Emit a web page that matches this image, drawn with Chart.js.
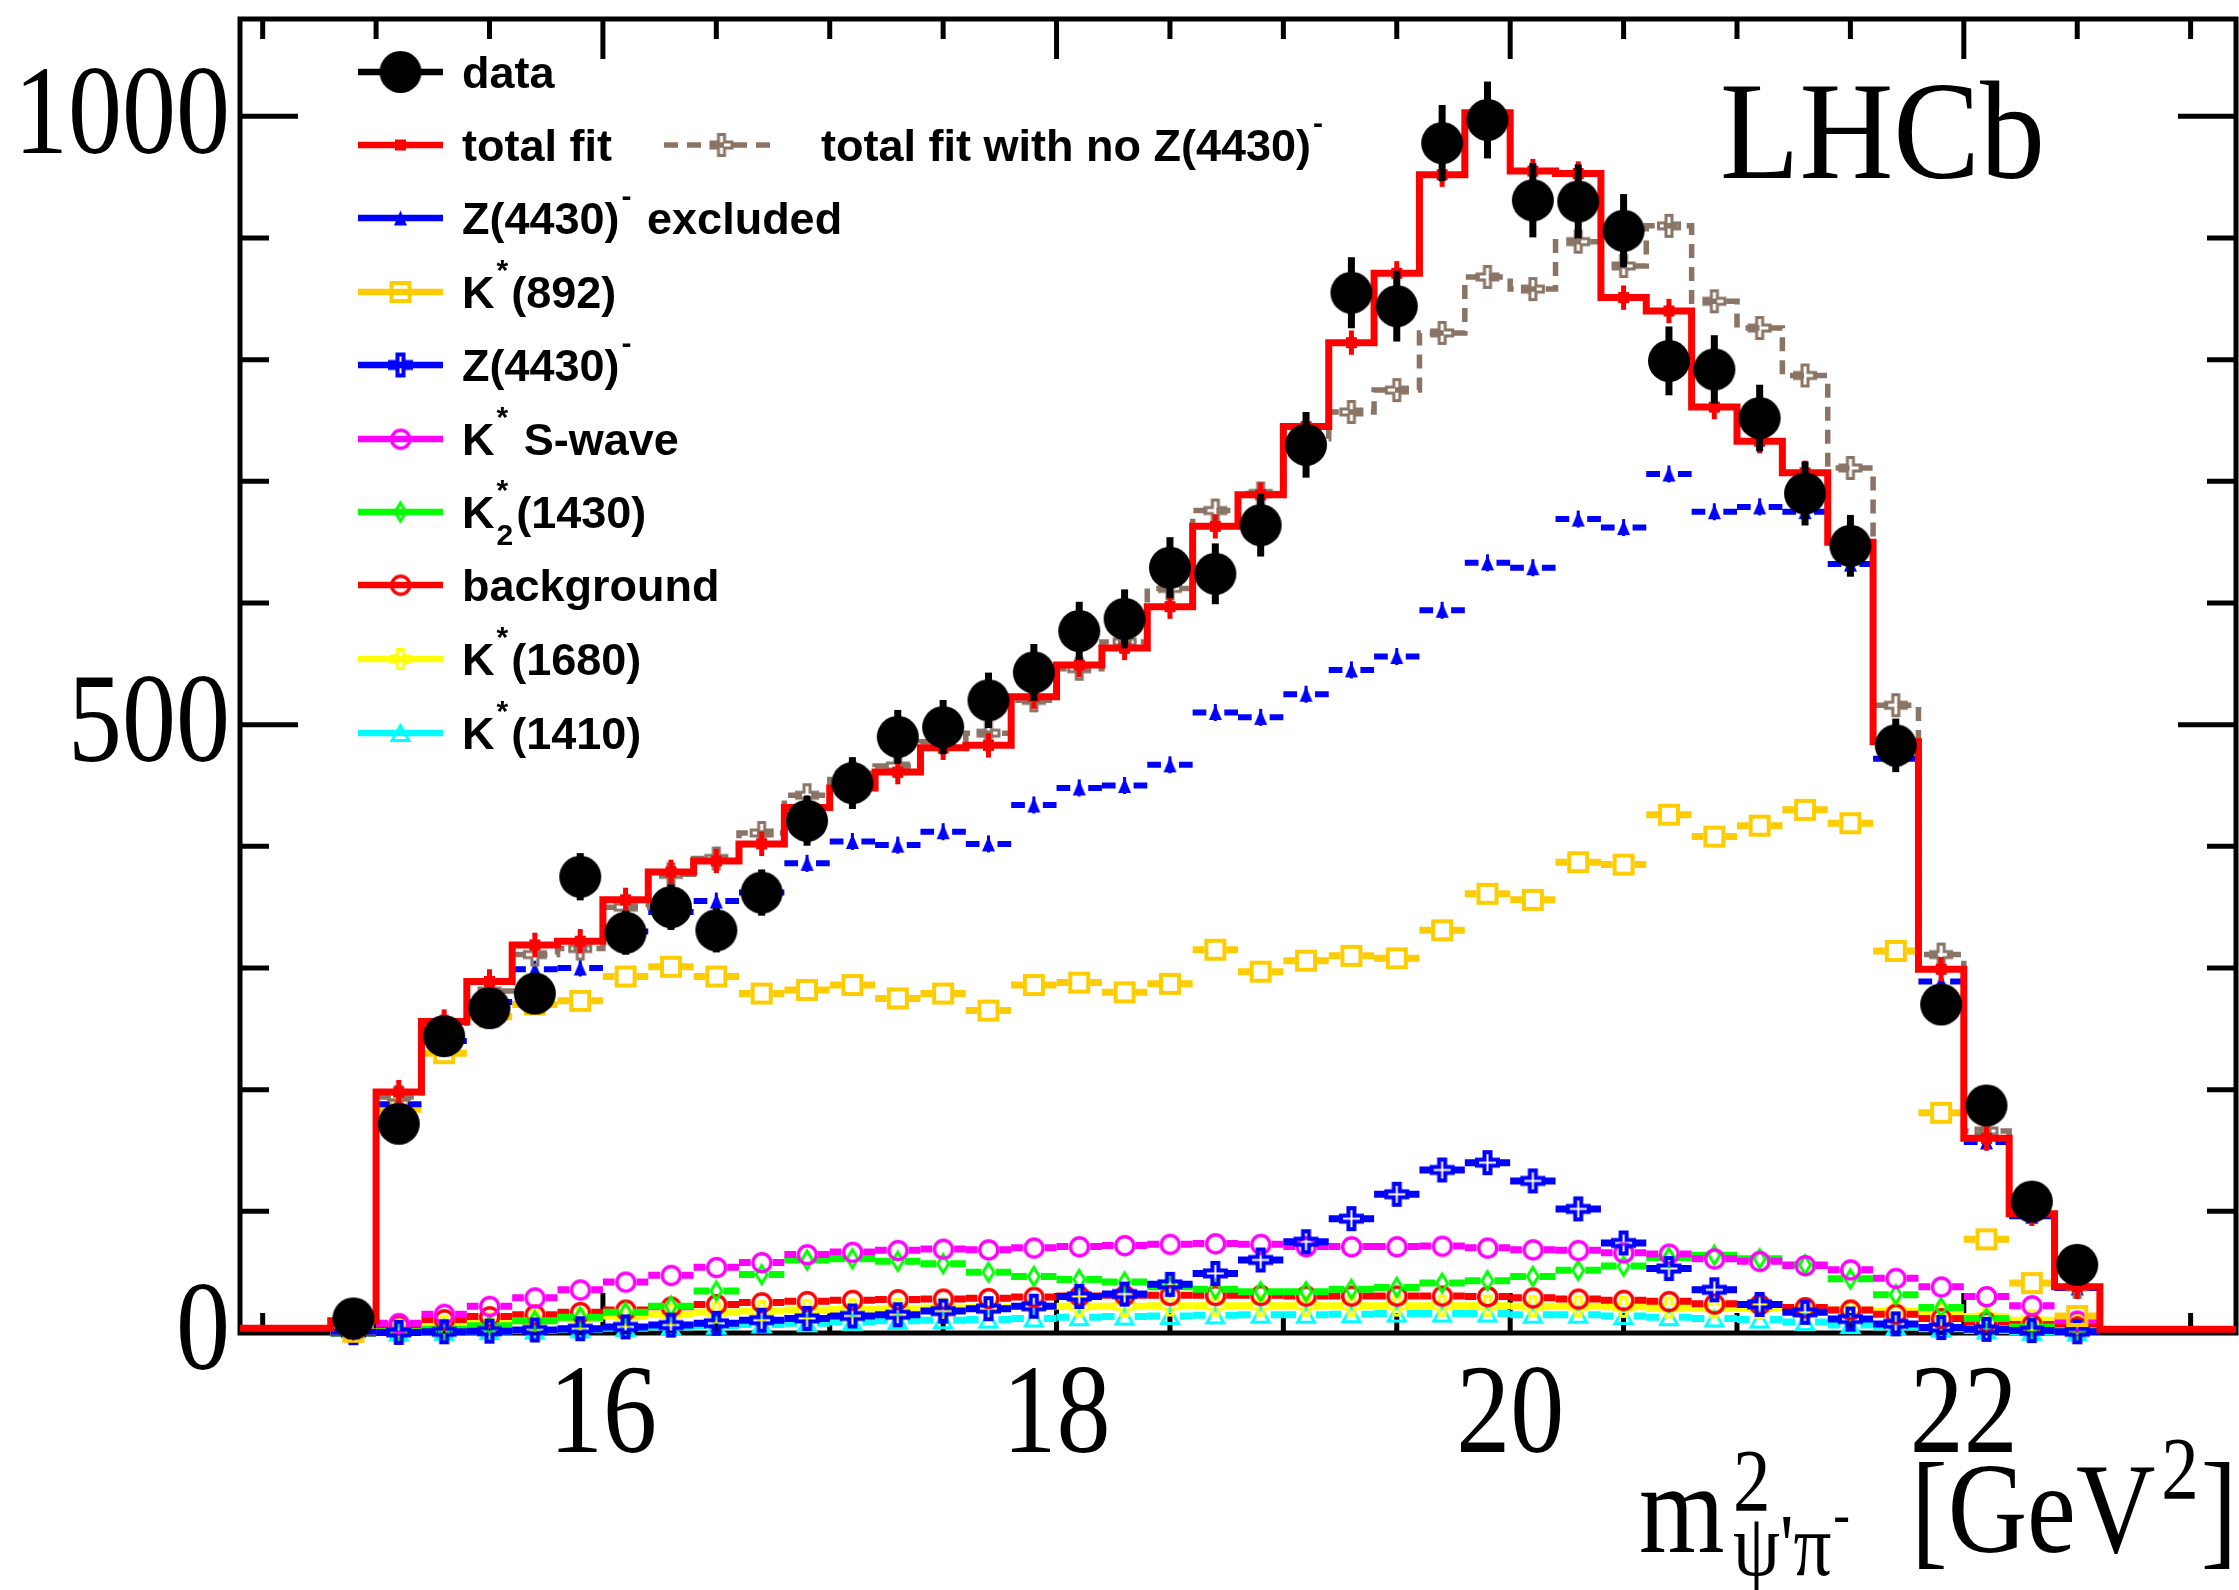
<!DOCTYPE html>
<html lang="en">
<head>
<meta charset="utf-8">
<title>m2 psi' pi- projection</title>
<script src="https://cdn.jsdelivr.net/npm/chart.js@4.4.1/dist/chart.umd.min.js"></script>
<style>
  html, body { margin: 0; padding: 0; background: #ffffff; }
  #plot { display: block; }
</style>
</head>
<body>
<canvas id="plot" width="2239" height="1590"></canvas>
<script>
// bins are 0.2 GeV^2 wide
const binCenters = [14.9, 15.1, 15.3, 15.5, 15.7, 15.9, 16.1, 16.3, 16.5, 16.7,
  16.9, 17.1, 17.3, 17.5, 17.7, 17.9, 18.1, 18.3, 18.5, 18.7,
  18.9, 19.1, 19.3, 19.5, 19.7, 19.9, 20.1, 20.3, 20.5, 20.7,
  20.9, 21.1, 21.3, 21.5, 21.7, 21.9, 22.1, 22.3, 22.5];
// the fit histograms run over the whole axis
const fitCenters = [14.5, 14.7, 14.9, 15.1, 15.3, 15.5, 15.7, 15.9, 16.1, 16.3,
  16.5, 16.7, 16.9, 17.1, 17.3, 17.5, 17.7, 17.9, 18.1, 18.3,
  18.5, 18.7, 18.9, 19.1, 19.3, 19.5, 19.7, 19.9, 20.1, 20.3,
  20.5, 20.7, 20.9, 21.1, 21.3, 21.5, 21.7, 21.9, 22.1, 22.3,
  22.5, 22.7, 22.9, 23.1];

const dataValues = [12, 172, 244, 267, 279, 375, 329, 350, 331, 362,
  421, 452, 490, 498, 520, 543, 577, 587, 629, 624,
  664, 730, 855, 844, 978, 997, 931, 930, 906, 799,
  792, 752, 690, 647, 483, 270, 187, 108, 56];
const dataErrors = [3.5, 13.1, 15.6, 16.3, 16.7, 19.4, 18.1, 18.7, 18.2, 19.0,
  20.5, 21.3, 22.1, 22.3, 22.8, 23.3, 24.0, 24.2, 25.1, 25.0,
  25.8, 27.0, 29.2, 29.1, 31.3, 31.6, 30.5, 30.5, 30.1, 28.3,
  28.1, 27.4, 26.3, 25.4, 22.0, 16.4, 13.7, 10.4, 7.5];

const totalFit = [4, 4, 10, 198, 256, 289, 319, 322, 356, 379,
  388, 402, 432, 448, 461, 481, 483, 523, 549, 563,
  597, 663, 689, 745, 814, 871, 952, 1003, 955, 953,
  851, 840, 761, 733, 707, 650, 486, 299, 160, 98,
  38, 3, 3, 3];
const totalFitNoZ = [4, 4, 10, 194, 252, 281, 311, 316, 350, 377,
  390, 411, 442, 460, 466, 486, 493, 520, 546, 568,
  612, 676, 690, 735, 757, 775, 822, 868, 858, 897,
  877, 910, 848, 826, 787, 711, 516, 311, 166, 101,
  38, 3, 3, 3];

const zExcluded = [1, 188, 240, 272, 299, 300, 330, 346, 355, 362,
  386, 404, 401, 412, 402, 434, 448, 450, 467, 510,
  506, 525, 545, 556, 594, 633, 629, 669, 662, 706,
  675, 679, 675, 632, 472, 289, 157, 96, 37];
const kst892 = [1, 184, 230, 260, 270, 273, 293, 301, 293, 279,
  282, 286, 275, 279, 265, 286, 288, 280, 287, 315,
  297, 306, 310, 308, 331, 361, 356, 387, 385, 426,
  408, 417, 430, 419, 314, 181, 77, 41, 14];
const z4430 = [0.3, 0.5, 1, 1.5, 2.5, 3.5, 5, 6.5, 8, 10.5,
  12, 14, 15, 18, 20, 22, 30, 32, 40, 49,
  60, 75, 94, 114, 134, 140, 125, 102, 74, 53,
  35.5, 23.5, 17, 11.5, 7.5, 4.5, 3, 2, 1];
const kstSWave = [0.5, 8, 15.5, 22, 29, 35.5, 42, 47.5, 54, 58,
  64.5, 66.5, 68, 69, 68.5, 70, 71, 72, 73, 73.5,
  73, 71, 71, 71, 71.5, 70, 68.5, 68, 66, 65,
  61, 59, 55.5, 52, 45, 38, 30, 22.5, 10];
const k2st1430 = [0, 1, 3, 6, 10, 13, 17, 22, 34.5, 48,
  60, 61, 59, 57, 50, 46.5, 44, 42, 38, 36,
  34, 34, 36, 37.5, 41, 43, 46.5, 51.5, 55, 62,
  64, 61, 56, 44.5, 31.5, 21, 12, 5, 2];
const background = [0, 6.5, 11, 13.5, 15, 17, 19, 21.5, 23.5, 25,
  26, 27, 27.5, 28, 28.5, 29.5, 30.5, 31, 31, 31,
  31, 30.5, 30.5, 30.5, 30.5, 30, 29, 28, 27, 26,
  24, 23.5, 21, 19, 15.5, 12, 9, 7, 5];
const kst1680 = [0, 3, 6, 8, 10, 12, 14, 15.5, 17, 18,
  19, 19.5, 20, 20.5, 21, 21.5, 22, 22, 22.5, 22.5,
  22.5, 22.5, 22.5, 22.5, 22.5, 22.5, 22, 22, 21.5, 21,
  21, 20.5, 20, 19, 18, 16, 13.5, 10.5, 7];
const kst1410 = [0, 0.5, 1, 1.5, 2, 3, 4, 5, 6, 7,
  8, 9, 10, 10.5, 11, 12, 13, 13.5, 14, 14.5,
  15, 15, 15.5, 16, 16, 16, 15, 15, 14, 13,
  12, 11, 9, 6.5, 5, 3.5, 2, 1, 0.5];

const xLabelTicks = [16, 18, 20, 22];
const yLabelTicks = [0, 500, 1000];

const X_MIN = 14.4, X_MAX = 23.2, Y_MAX = 1080;
const HALF_BIN = 0.1;

const RED = '#ff0000', BLUE = '#0000ff', GOLD = '#ffcc00', MAGENTA = '#ff00ff';
const GREEN = '#00ff00', YELLOW = '#ffff00', CYAN = '#00ffff', TAUPE = '#8a7466';
const SERIF = '"Liberation Serif", "Times New Roman", serif';
const SERIF_STRETCH = 1.18;   // tall Times glyphs for axis text

// ---- marker images (ROOT-like open / filled markers) ----
function makeMarker(w, h, paint) {
  const c = document.createElement('canvas');
  c.width = w;
  c.height = h;
  const g = c.getContext('2d');
  g.translate(w / 2, h / 2);
  paint(g);
  return c;
}
function filledCircle(col, r) {
  return makeMarker(2 * r + 2, 2 * r + 2, g => {
    g.fillStyle = col; g.beginPath(); g.arc(0, 0, r, 0, Math.PI * 2); g.fill();
  });
}
function openCircle(col, r, lw) {
  return makeMarker(2 * r + lw + 4, 2 * r + lw + 4, g => {
    g.strokeStyle = col; g.lineWidth = lw; g.beginPath(); g.arc(0, 0, r, 0, Math.PI * 2); g.stroke();
  });
}
function openSquare(col, s, lw) {
  return makeMarker(s + lw + 4, s + lw + 4, g => {
    g.strokeStyle = col; g.lineWidth = lw; g.strokeRect(-s / 2, -s / 2, s, s);
  });
}
function filledSquare(col, s) {
  return makeMarker(s + 2, s + 2, g => { g.fillStyle = col; g.fillRect(-s / 2, -s / 2, s, s); });
}
function openDiamond(col, w, h, lw) {
  return makeMarker(w + lw + 4, h + lw + 4, g => {
    g.strokeStyle = col; g.lineWidth = lw; g.lineJoin = 'miter';
    g.beginPath(); g.moveTo(0, -h / 2); g.lineTo(w / 2, 0); g.lineTo(0, h / 2); g.lineTo(-w / 2, 0);
    g.closePath(); g.stroke();
  });
}
function triangle(col, w, h, lw, filled) {
  return makeMarker(w + lw + 4, h + lw + 4, g => {
    g.beginPath(); g.moveTo(0, -h / 2); g.lineTo(w / 2, h / 2); g.lineTo(-w / 2, h / 2); g.closePath();
    if (filled) { g.fillStyle = col; g.fill(); } else { g.strokeStyle = col; g.lineWidth = lw; g.stroke(); }
  });
}
function openCross(col, s, arm, lw) {
  const a = s / 2, t = arm / 2;
  return makeMarker(s + lw + 4, s + lw + 4, g => {
    g.strokeStyle = col; g.lineWidth = lw; g.lineJoin = 'miter';
    g.beginPath();
    g.moveTo(-t, -a); g.lineTo(t, -a); g.lineTo(t, -t); g.lineTo(a, -t); g.lineTo(a, t); g.lineTo(t, t);
    g.lineTo(t, a); g.lineTo(-t, a); g.lineTo(-t, t); g.lineTo(-a, t); g.lineTo(-a, -t); g.lineTo(-t, -t);
    g.closePath(); g.stroke();
  });
}

const mk = {
  data: filledCircle('#000', 21),
  fit: filledSquare(RED, 11),
  noZ: openCross(TAUPE, 21, 6, 3),
  zExcl: triangle(BLUE, 13, 15, 0, true),
  k892: openSquare(GOLD, 18, 4),
  z: openCross(BLUE, 21, 6, 4),
  sWave: openCircle(MAGENTA, 9, 3.5),
  k2: openDiamond(GREEN, 11, 18, 3),
  bkg: openCircle(RED, 9, 3.5),
  k1680: openCross(YELLOW, 19, 6, 3),
  k1410: triangle(CYAN, 17, 15, 3, false)
};

function points(xs, ys) {
  return xs.map((x, i) => ({ x: x, y: ys[i] }));
}
// left bin edges plus the closing edge, drawn with stepped lines
function stepPoints(centers, values) {
  const pts = centers.map((c, i) => ({ x: c - HALF_BIN, y: values[i] }));
  pts.push({ x: centers[centers.length - 1] + HALF_BIN, y: values[values.length - 1] });
  return pts;
}

function component(label, values, marker, color, barWidth, gap, yErr) {
  return {
    label: label,
    type: 'scatter',
    data: points(binCenters, values),
    pointStyle: marker,
    pointRadius: 8,
    clip: false,
    binBars: { halfWidth: HALF_BIN, gap: gap, lineWidth: barWidth, color: color, yErr: yErr || 0, errWidth: 3 }
  };
}

// first dataset is drawn on top
const datasets = [
  {
    label: 'data', type: 'scatter',
    data: points(binCenters, dataValues),
    pointStyle: mk.data, pointRadius: 21, clip: false,
    binBars: { halfWidth: 0, color: '#000', yErr: dataErrors, errWidth: 7 }
  },
  {
    label: 'total fit points', type: 'scatter',
    data: points(binCenters, totalFit.slice(2, 41)),
    pointStyle: mk.fit, pointRadius: 6, clip: false,
    binBars: { halfWidth: 0, color: RED, yErr: 10, errWidth: 5 }
  },
  {
    label: 'total fit', type: 'line',
    data: stepPoints(fitCenters, totalFit),
    stepped: 'before', borderColor: RED, borderWidth: 7, pointRadius: 0, fill: false, clip: false
  },
  {
    label: 'total fit with no Z points', type: 'scatter',
    data: points(binCenters, totalFitNoZ.slice(2, 41)),
    pointStyle: mk.noZ, pointRadius: 8, clip: false
  },
  {
    label: 'total fit with no Z', type: 'line',
    data: stepPoints(fitCenters, totalFitNoZ),
    stepped: 'before', borderColor: TAUPE, borderWidth: 5.5, borderDash: [14, 9],
    pointRadius: 0, fill: false, clip: false
  },
  component('Z(4430) excluded', zExcluded, mk.zExcl, BLUE, 6, 9, 7),
  component('K*(892)', kst892, mk.k892, GOLD, 7, 11),
  component('Z(4430)', z4430, mk.z, BLUE, 7, 11),
  component('K* S-wave', kstSWave, mk.sWave, MAGENTA, 7, 11),
  component('K2*(1430)', k2st1430, mk.k2, GREEN, 7, 7),
  component('background', background, mk.bkg, RED, 7, 11),
  component('K*(1680)', kst1680, mk.k1680, YELLOW, 7, 10),
  component('K*(1410)', kst1410, mk.k1410, CYAN, 7, 10)
];

// horizontal bin bars (broken around the marker) and vertical error bars
const binBarsPlugin = {
  id: 'binBars',
  beforeDatasetDraw(chart, args) {
    const ds = chart.data.datasets[args.index];
    const bars = ds.binBars;
    if (!bars) return;
    const ctx = chart.ctx;
    const xs = chart.scales.x, ys = chart.scales.y;
    ctx.save();
    ctx.strokeStyle = bars.color;
    ctx.lineCap = 'butt';
    ds.data.forEach((p, i) => {
      const px = xs.getPixelForValue(p.x);
      const py = ys.getPixelForValue(p.y);
      if (bars.halfWidth) {
        ctx.lineWidth = bars.lineWidth;
        ctx.beginPath();
        ctx.moveTo(xs.getPixelForValue(p.x - bars.halfWidth), py);
        ctx.lineTo(px - bars.gap, py);
        ctx.moveTo(px + bars.gap, py);
        ctx.lineTo(xs.getPixelForValue(p.x + bars.halfWidth), py);
        ctx.stroke();
      }
      const err = Array.isArray(bars.yErr) ? bars.yErr[i] : bars.yErr;
      if (err) {
        ctx.lineWidth = bars.errWidth;
        ctx.beginPath();
        ctx.moveTo(px, ys.getPixelForValue(p.y - err));
        ctx.lineTo(px, ys.getPixelForValue(p.y + err));
        ctx.stroke();
      }
    });
    ctx.restore();
  }
};

// frame with inward ticks on all four sides
const framePlugin = {
  id: 'frame',
  beforeDatasetsDraw(chart) {
    const { ctx, chartArea: a } = chart;
    const xs = chart.scales.x, ys = chart.scales.y;
    ctx.save();
    ctx.strokeStyle = '#000';
    ctx.lineWidth = 5;
    ctx.lineCap = 'butt';
    ctx.strokeRect(a.left, a.top, a.right - a.left, a.bottom - a.top);
    ctx.beginPath();
    for (let v = 14.5; v <= X_MAX; v += 0.5) {
      const px = xs.getPixelForValue(v);
      const len = xLabelTicks.includes(v) ? 40 : 20;
      ctx.moveTo(px, a.bottom); ctx.lineTo(px, a.bottom - len);
      ctx.moveTo(px, a.top); ctx.lineTo(px, a.top + len);
    }
    for (let v = 100; v <= Y_MAX; v += 100) {
      const py = ys.getPixelForValue(v);
      const len = yLabelTicks.includes(v) ? 58 : 29;
      ctx.moveTo(a.left, py); ctx.lineTo(a.left + len, py);
      ctx.moveTo(a.right, py); ctx.lineTo(a.right - len, py);
    }
    ctx.stroke();
    ctx.restore();
  }
};

// serif text, stretched vertically about its anchor point
function tallText(ctx, text, x, y, stretch) {
  ctx.save();
  ctx.translate(x, y);
  ctx.scale(1, stretch || SERIF_STRETCH);
  ctx.fillText(text, 0, 0);
  ctx.restore();
}

// text with superscripts / subscripts: parts are strings or {sup, sub}
function drawRich(ctx, parts, x, y, o) {
  let cx = x;
  parts.forEach(p => {
    if (typeof p === 'string') {
      ctx.font = `${o.weight} ${o.size}px ${o.family}`;
      ctx.fillText(p, cx, y);
      cx += ctx.measureText(p).width;
    } else {
      ctx.font = `${o.weight} ${o.small}px ${o.family}`;
      let w = 0;
      if (p.sup) { ctx.fillText(p.sup, cx + 2, y - o.rise); w = Math.max(w, ctx.measureText(p.sup).width); }
      if (p.sub) { ctx.fillText(p.sub, cx + 2, y + o.drop); w = Math.max(w, ctx.measureText(p.sub).width); }
      cx += w + 2 + o.gap;
    }
  });
  return cx;
}

const legendRows = [
  { y: 72, marker: mk.data, color: '#000', text: ['data'] },
  { y: 145, marker: mk.fit, color: RED, text: ['total fit'] },
  { y: 218, marker: mk.zExcl, color: BLUE, text: ['Z(4430)', { sup: '-' }, ' excluded'] },
  { y: 292, marker: mk.k892, color: GOLD, text: ['K', { sup: '*' }, '(892)'] },
  { y: 365, marker: mk.z, color: BLUE, text: ['Z(4430)', { sup: '-' }] },
  { y: 439, marker: mk.sWave, color: MAGENTA, text: ['K', { sup: '*' }, ' S-wave'] },
  { y: 512, marker: mk.k2, color: GREEN, text: ['K', { sup: '*', sub: '2' }, '(1430)'] },
  { y: 585, marker: mk.bkg, color: RED, text: ['background'] },
  { y: 659, marker: mk.k1680, color: YELLOW, text: ['K', { sup: '*' }, '(1680)'] },
  { y: 733, marker: mk.k1410, color: CYAN, text: ['K', { sup: '*' }, '(1410)'] }
];
const legendFont = { weight: 'bold', size: 45, small: 30, rise: 28, drop: 17, gap: 3, family: '"Liberation Sans", Arial, sans-serif' };

function drawLegendEntry(ctx, x0, x1, y, color, marker, dash) {
  ctx.save();
  ctx.strokeStyle = color;
  ctx.lineWidth = dash ? 5.5 : 6.5;
  ctx.setLineDash(dash || []);
  ctx.beginPath(); ctx.moveTo(x0, y); ctx.lineTo(x1, y); ctx.stroke();
  ctx.restore();
  ctx.drawImage(marker, (x0 + x1) / 2 - marker.width / 2, y - marker.height / 2);
}

const annotationPlugin = {
  id: 'annotations',
  afterDatasetsDraw(chart) {
    const { ctx, chartArea: a } = chart;
    const xs = chart.scales.x, ys = chart.scales.y;
    ctx.save();
    ctx.fillStyle = '#000';

    // tick labels
    ctx.font = `108px ${SERIF}`;
    ctx.textAlign = 'center';
    ctx.textBaseline = 'alphabetic';
    xLabelTicks.forEach(v => tallText(ctx, String(v), xs.getPixelForValue(v), 1452));
    ctx.textAlign = 'right';
    ctx.textBaseline = 'middle';
    yLabelTicks.forEach(v => tallText(ctx, String(v), a.left - 10, ys.getPixelForValue(v) + 3));

    // experiment label
    ctx.textAlign = 'left';
    ctx.textBaseline = 'alphabetic';
    ctx.font = `130px ${SERIF}`;
    tallText(ctx, 'LHCb', 1720, 178, 1.08);

    // axis title  m^2_{psi' pi^-} [GeV^2]
    ctx.font = `110px ${SERIF}`;
    tallText(ctx, 'm', 1639, 1552);
    ctx.font = `75px ${SERIF}`;
    tallText(ctx, '2', 1733, 1510);
    tallText(ctx, '\u03C8\'\u03C0', 1733, 1575);
    const subW = ctx.measureText('\u03C8\'\u03C0').width;
    ctx.font = `50px ${SERIF}`;
    tallText(ctx, '-', 1735 + subW, 1534);
    ctx.font = `110px ${SERIF}`;
    tallText(ctx, '[GeV', 1911, 1552);
    let gx = 1911 + ctx.measureText('[GeV').width;
    ctx.font = `75px ${SERIF}`;
    tallText(ctx, '2', gx + 6, 1498);
    gx += 6 + ctx.measureText('2').width;
    ctx.font = `110px ${SERIF}`;
    tallText(ctx, ']', gx + 2, 1552);

    // legend
    legendRows.forEach(r => {
      drawLegendEntry(ctx, 358, 443, r.y, r.color, r.marker);
      drawRich(ctx, r.text, 462, r.y + 16, legendFont);
    });
    drawLegendEntry(ctx, 664, 779, 145, TAUPE, mk.noZ, [14, 9]);
    drawRich(ctx, ['total fit with no Z(4430)', { sup: '-' }], 821, 161, legendFont);

    ctx.restore();
  }
};

new Chart(document.getElementById('plot'), {
  type: 'scatter',
  data: { datasets: datasets },
  options: {
    responsive: false,
    animation: false,
    events: [],
    layout: { autoPadding: false, padding: { left: 240, top: 19, right: 3, bottom: 257 } },
    scales: {
      x: { type: 'linear', min: X_MIN, max: X_MAX, display: false },
      y: { type: 'linear', min: 0, max: Y_MAX, display: false }
    },
    elements: { point: { borderWidth: 0 } },
    plugins: { legend: { display: false }, tooltip: { enabled: false } }
  },
  plugins: [framePlugin, binBarsPlugin, annotationPlugin]
});
</script>
</body>
</html>
